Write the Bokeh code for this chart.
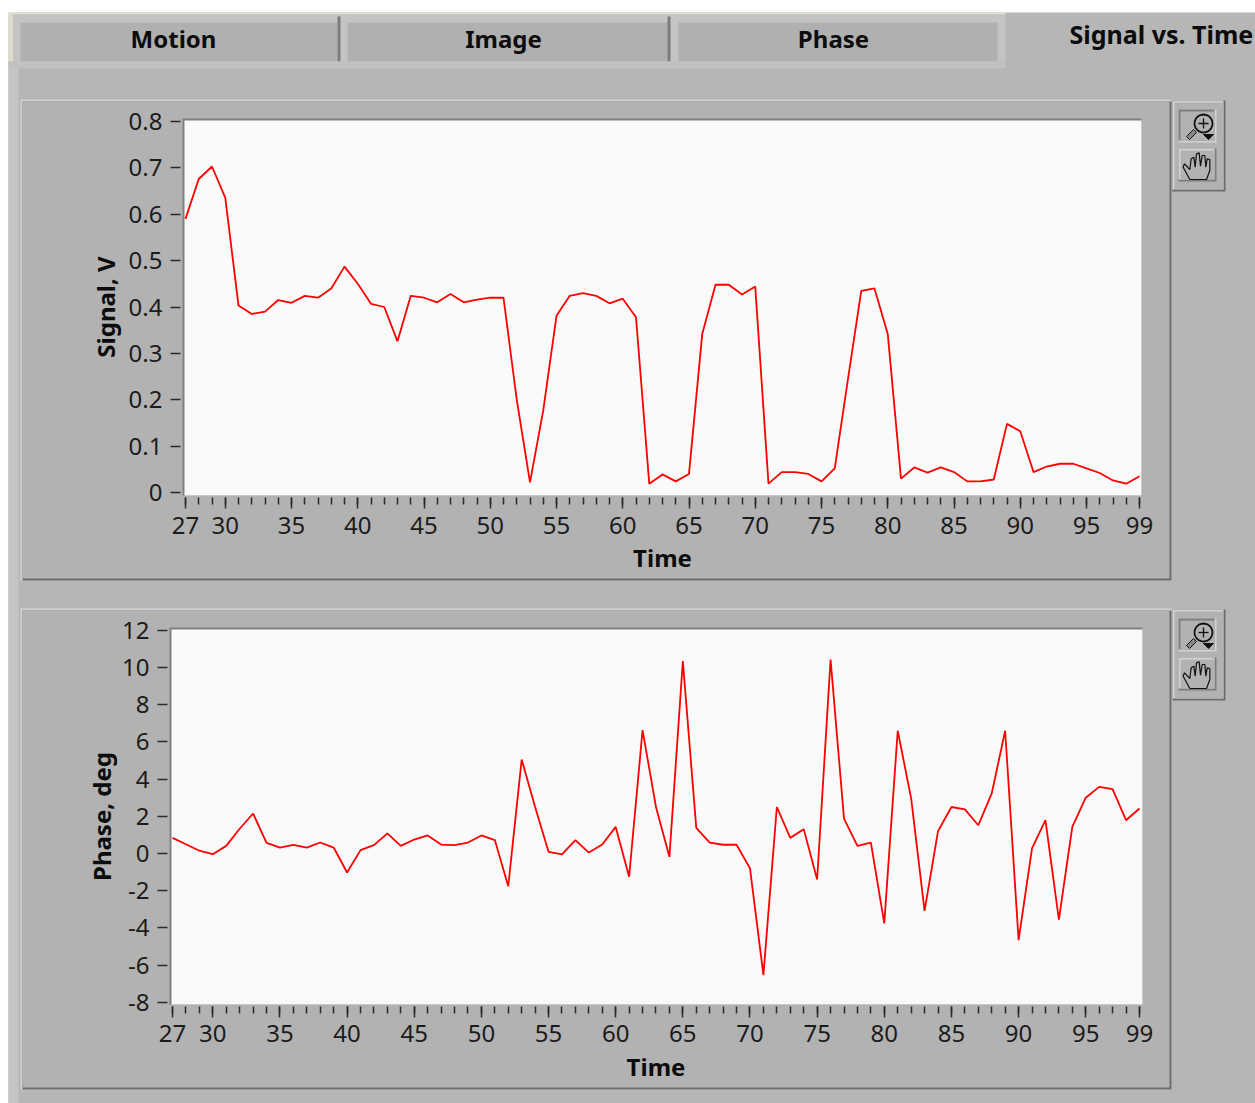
import numpy as np
from bokeh.plotting import figure
from bokeh.models import FixedTicker, Range1d, LinearAxis
from bokeh.core.properties import value
from bokeh.embed import file_html
from bokeh.resources import INLINE

# ---------- data ----------
time = list(range(27, 100))
signal_v = [0.59, 0.676, 0.703, 0.636, 0.403, 0.385, 0.39, 0.415, 0.409, 0.424, 0.42, 0.44, 0.487,
            0.45, 0.407, 0.40, 0.326, 0.424, 0.42, 0.41, 0.428, 0.41, 0.416, 0.42, 0.42, 0.2, 0.022,
            0.177, 0.381, 0.424, 0.43, 0.424, 0.408, 0.418, 0.378, 0.019, 0.039, 0.024, 0.04, 0.342,
            0.448, 0.448, 0.427, 0.444, 0.019, 0.044, 0.044, 0.04, 0.024, 0.052, 0.245, 0.435, 0.44,
            0.342, 0.03, 0.054, 0.043, 0.054, 0.044, 0.024, 0.024, 0.028, 0.148, 0.132, 0.044, 0.056,
            0.062, 0.062, 0.052, 0.042, 0.026, 0.019, 0.035]
phase_deg = [0.84, 0.5, 0.15, -0.04, 0.41, 1.33, 2.15, 0.57, 0.32, 0.47, 0.32, 0.59, 0.32, -1.02,
             0.18, 0.45, 1.08, 0.41, 0.75, 0.97, 0.48, 0.45, 0.59, 0.97, 0.72, -1.76, 5.05, 2.5, 0.09,
             -0.05, 0.72, 0.05, 0.48, 1.43, -1.25, 6.63, 2.5, -0.18, 10.34, 1.38, 0.59, 0.47, 0.47,
             -0.8, -6.54, 2.5, 0.84, 1.31, -1.4, 10.43, 1.88, 0.41, 0.59, -3.76, 6.6, 2.96, -3.08,
             1.2, 2.5, 2.37, 1.52, 3.23, 6.6, -4.66, 0.27, 1.79, -3.55, 1.43, 3.0, 3.58, 3.46, 1.79, 2.42]
x_major = [27, 30, 35, 40, 45, 50, 55, 60, 65, 70, 75, 80, 85, 90, 95, 99]
signal_ticks = [0, 0.1, 0.2, 0.3, 0.4, 0.5, 0.6, 0.7, 0.8]
signal_labels = ["0", "0.1", "0.2", "0.3", "0.4", "0.5", "0.6", "0.7", "0.8"]
phase_ticks = [-8, -6, -4, -2, 0, 2, 4, 6, 8, 10, 12]
phase_labels = ["-8", "-6", "-4", "-2", "0", "2", "4", "6", "8", "10", "12"]
tabs = ["Motion", "Image", "Phase"]
active_tab = "Signal vs. Time"

# ---------- style ----------
W, H = 1255, 1103
FONT = "Noto Sans"
OUTER = "#b6b6b6"
PANEL = "#b2b2b2"
LIGHT = "#d2d2d2"
DARK = "#6c6c6c"
INK = "#1c1c1c"
TITLE = "#0c0c0c"

# the page itself is one frame; the main ranges are page pixels, used for the window furniture only
p = figure(width=W, height=H, toolbar_location=None, output_backend="svg",
           x_range=Range1d(0, W), y_range=Range1d(H, 0), min_border=0,
           background_fill_color="#ffffff", border_fill_color="#ffffff", outline_line_color=None,
           x_axis_type=None, y_axis_type=None)
p.grid.visible = False


def box(l, t, r, b, color):
    p.quad(left=[l], right=[r], top=[t], bottom=[b], fill_color=color, line_color=None)


def stroke(pts, color="#111111", width=1.3):
    p.line([a for a, _ in pts], [b for _, b in pts], line_color=color, line_width=width)


def solid(pts, color):
    p.patch([a for a, _ in pts], [b for _, b in pts], fill_color=color, line_color="#111111", line_width=1)


def toolbar(dy):
    box(1172, 100 + dy, 1225, 191 + dy, DARK)
    box(1172, 100 + dy, 1223, 189 + dy, LIGHT)
    box(1174, 102 + dy, 1223, 189 + dy, PANEL)
    box(1178, 109 + dy, 1216, 142 + dy, LIGHT)
    box(1178, 109 + dy, 1214, 140 + dy, "#7d7d7d")
    box(1180, 111 + dy, 1214, 140 + dy, PANEL)
    ang = np.linspace(0, 2 * np.pi, 25)
    stroke([(1203 + 9 * c, 123 + dy + 9 * s) for c, s in zip(np.cos(ang), np.sin(ang))], width=1.8)
    stroke([(1203, 118 + dy), (1203, 128 + dy)])
    stroke([(1198, 123 + dy), (1208, 123 + dy)])
    solid([(1186, 136 + dy), (1193, 129 + dy), (1196, 132 + dy), (1189, 139 + dy)], "#888888")
    solid([(1203, 134 + dy), (1213, 134 + dy), (1208, 139 + dy)], "#111111")
    box(1178, 148 + dy, 1216, 181 + dy, "#7d7d7d")
    box(1178, 148 + dy, 1214, 179 + dy, LIGHT)
    box(1180, 150 + dy, 1214, 179 + dy, PANEL)
    hand = [(88, 252), (68, 215), (72, 205), (88, 222), (92, 190), (100, 185), (104, 215), (108, 175),
            (116, 172), (120, 212), (125, 180), (133, 180), (136, 215), (140, 190), (148, 192),
            (148, 225), (138, 252), (88, 252)]
    stroke([(1160 + a / 3, 95 + dy + b / 3) for a, b in hand], width=1.2)


def panel(l, t, r, b):
    box(l, t, r, b, LIGHT)
    box(l + 2, t + 2, r, b, DARK)
    box(l + 2, t + 2, r - 2, b - 2, PANEL)


def chart(key, frame, x_cal, y_cal, yvals, ticks, labels, ylabel, standoffs):
    """x_cal = (pixel of time 27, pixels per unit), y_cal = (pixel of value v0, v0, pixels per unit)."""
    l, t, r, b = frame
    px0, ppx = x_cal
    py0, v0, ppy = y_cal
    to_x = lambda px: 27 + (px - px0) / ppx
    to_y = lambda py: v0 + (py0 - py) / ppy
    xn, yn = "x" + key, "y" + key
    p.extra_x_ranges[xn] = Range1d(to_x(0), to_x(W))
    p.extra_y_ranges[yn] = Range1d(to_y(H), to_y(0))

    box(l - 2, t - 2, r, b, "#808080")
    box(l, t, r, b, "#fafafa")
    p.line(time, yvals, x_range_name=xn, y_range_name=yn, line_color="#ff0000", line_width=1.8)

    ax = LinearAxis(x_range_name=xn, y_range_name=yn, fixed_location=to_y(b), bounds=(27, 99))
    ax.ticker = FixedTicker(ticks=x_major, minor_ticks=time)
    ax.axis_line_color = None
    ax.major_tick_in, ax.major_tick_out = -2, 13
    ax.minor_tick_in, ax.minor_tick_out = -2, 9
    ax.major_tick_line_color = ax.minor_tick_line_color = "#2a2a2a"
    ax.major_tick_line_width = ax.minor_tick_line_width = 1.5
    ax.major_label_text_font = FONT
    ax.major_label_text_font_size = "24px"
    ax.major_label_text_color = INK
    ax.major_label_standoff = standoffs[0]
    ax.axis_label = "Time"
    ax.axis_label_text_font = FONT
    ax.axis_label_text_font_style = "bold"
    ax.axis_label_text_font_size = "24px"
    ax.axis_label_text_color = TITLE
    ax.axis_label_standoff = standoffs[1]
    p.add_layout(ax, "below")

    ay = LinearAxis(x_range_name=xn, y_range_name=yn, fixed_location=to_x(l), bounds=(ticks[0], ticks[-1]))
    ay.ticker = FixedTicker(ticks=ticks)
    ay.major_label_overrides = dict(zip(ticks, labels))
    ay.axis_line_color = None
    ay.major_tick_in, ay.major_tick_out = -4, 14
    ay.minor_tick_line_color = None
    ay.major_tick_line_color = "#2a2a2a"
    ay.major_tick_line_width = 1.5
    ay.major_label_text_font = FONT
    ay.major_label_text_font_size = "24px"
    ay.major_label_text_color = INK
    ay.major_label_standoff = standoffs[2]
    ay.axis_label = ylabel
    ay.axis_label_text_font = FONT
    ay.axis_label_text_font_style = "bold"
    ay.axis_label_text_font_size = "24px"
    ay.axis_label_text_color = TITLE
    ay.axis_label_standoff = standoffs[3]
    p.add_layout(ay, "left")


# ---------- window furniture ----------
box(8, 12, W, H, OUTER)
box(8, 12, 1005, 14, "#e6e2d0")
box(8, 14, 13, 61, "#e0dccc")
box(8, 61, 18, H, "#c4c4c4")
box(13, 14, 1005, 61, "#c4c4c4")
tab_l, tab_r = [20, 347, 678], [337, 667, 997]
for a, b_ in zip(tab_l, tab_r):
    box(a, 22, b_, 61, "#b0b0b0")
for b_ in tab_r[:2]:
    box(b_, 16, b_ + 3, 61, "#7c7c7c")
box(8, 61, 1005, 68, "#c2c2c2")
p.text(x=[173, 503, 833], y=[38, 38, 38], text=tabs, text_font=value(FONT), text_font_style="bold",
       text_font_size="24px", text_color=TITLE, text_align="center", text_baseline="middle")
p.text(x=[1069], y=[33], text=[active_tab], text_font=value(FONT), text_font_style="bold",
       text_font_size="25px", text_color=TITLE, text_align="left", text_baseline="middle")

panel(20, 99, 1171, 580)
panel(20, 608, 1171, 1089)
toolbar(0)
toolbar(509)

# ---------- charts ----------
chart("1", (184, 120, 1141, 495), (185, 13.25), (492, 0, 463.75),
      signal_v, signal_ticks, signal_labels, "Signal, V", (8, 4, 8, 4))
chart("2", (171, 629, 1142, 1004), (172, 13.43), (853, 0, 18.6),
      phase_deg, phase_ticks, phase_labels, "Phase, deg", (7, 5, 8, 1))

open("out.html", "w").write(file_html(p, INLINE))
